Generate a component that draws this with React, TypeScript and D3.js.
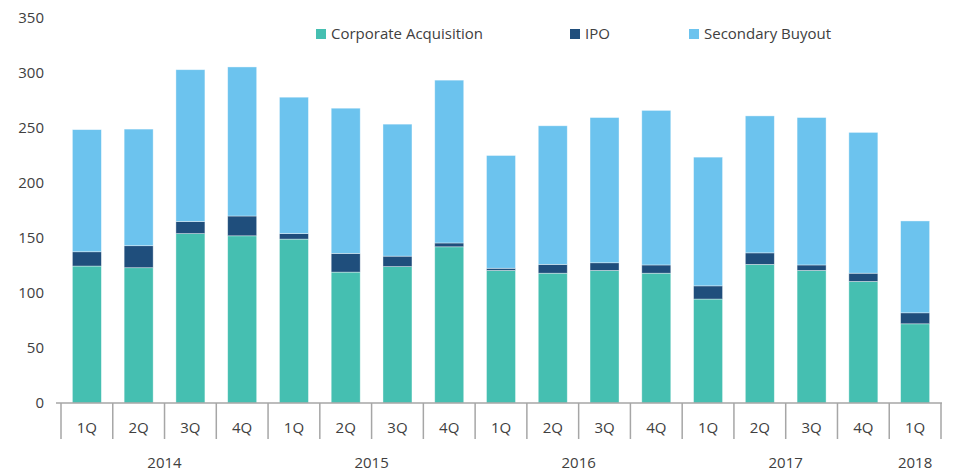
import React from 'react';
import * as d3 from 'd3';

const quarters = ['1Q', '2Q', '3Q', '4Q', '1Q', '2Q', '3Q', '4Q', '1Q', '2Q', '3Q', '4Q', '1Q', '2Q', '3Q', '4Q', '1Q'];
const years = [
  { label: '2014', start: 0, end: 4 },
  { label: '2015', start: 4, end: 8 },
  { label: '2016', start: 8, end: 12 },
  { label: '2017', start: 12, end: 16 },
  { label: '2018', start: 16, end: 17 },
];
const corporateAcquisition = [124.5, 123, 154, 152, 149, 119, 124, 142, 120.5, 118, 120.5, 118, 94.5, 126, 120.5, 110.5, 72];
const ipo = [13, 20, 11, 18, 5, 17, 9.5, 3.5, 2, 8, 7, 7.5, 12, 10.5, 5, 7.5, 10];
const secondaryBuyout = [111, 106, 138, 135.5, 124, 132, 120, 148, 102.5, 126, 132, 140.5, 117, 124.5, 134, 128, 83.5];
const yTicks = [0, 50, 100, 150, 200, 250, 300, 350];

const seriesKeys = ['ca', 'ipo', 'sb'];
const seriesNames = ['Corporate Acquisition', 'IPO', 'Secondary Buyout'];
const colors = ['#45BFB1', '#1F4E7C', '#6CC3EE'];

const W = 953;
const H = 473;
const font = '"Open Sans", "DejaVu Sans", sans-serif';
const textColor = '#404040';

export default function App() {
  const rows = quarters.map((q, i) => ({
    ca: corporateAcquisition[i],
    ipo: ipo[i],
    sb: secondaryBuyout[i],
  }));
  const stacked = d3.stack<any>().keys(seriesKeys)(rows);

  const x = d3.scaleBand<number>()
    .domain(d3.range(quarters.length))
    .range([61, 941])
    .paddingInner(0.44)
    .paddingOuter(0.22);
  const step = x.step();
  const left = 61;
  const y = d3.scaleLinear().domain([0, 350]).range([403, 18]);
  const boundaries = d3.range(quarters.length + 1).map(i => left + i * step);

  const legendX = [316, 570, 689];

  return (
    <svg width={W} height={H} style={{ position: 'absolute', left: 0, top: 0 }} fontFamily={font}>
      <rect width={W} height={H} fill="#fff" />
      {yTicks.map(t => (
        <text key={t} x={44} y={y(t)} dy="0.35em" textAnchor="end" fontSize={15} fill={textColor}>{t}</text>
      ))}
      {stacked.map((s, si) => (
        <g key={s.key} fill={colors[si]}>
          {s.map((d, i) => (
            <rect
              key={i}
              x={x(i)}
              y={y(d[1])}
              width={x.bandwidth()}
              height={Math.max(0, y(d[0]) - y(d[1]))}
              stroke="#fff"
              strokeOpacity={0.5}
              strokeWidth={0.75}
            />
          ))}
        </g>
      ))}
      <line x1={56} x2={942} y1={y(0)} y2={y(0)} stroke="#A6A6A6" strokeWidth={1.5} />
      {boundaries.map((b, i) => (
        <line key={i} x1={b} x2={b} y1={y(0)} y2={439} stroke="#A6A6A6" strokeWidth={1.5} />
      ))}
      {quarters.map((q, i) => (
        <text key={i} x={left + (i + 0.5) * step} y={428} dy="0.35em" textAnchor="middle" fontSize={15} fill={textColor}>{q}</text>
      ))}
      {years.map(yr => (
        <text key={yr.label} x={left + ((yr.start + yr.end) / 2) * step} y={463} dy="0.35em" textAnchor="middle" fontSize={15} fill={textColor}>{yr.label}</text>
      ))}
      {seriesNames.map((n, i) => (
        <g key={n} transform={`translate(${legendX[i]},34)`}>
          <rect x={0} y={-5} width={10} height={10} fill={colors[i]} />
          <text x={15} y={0} dy="0.35em" fontSize={15} fill={textColor}>{n}</text>
        </g>
      ))}
    </svg>
  );
}
